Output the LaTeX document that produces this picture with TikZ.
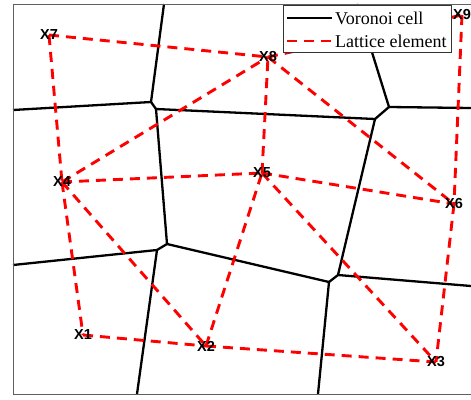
\documentclass[tikz,border=0pt]{standalone}
\usepackage{fontspec}
\setmainfont{Liberation Serif}
\newfontfamily\lblfont{Liberation Sans}
\begin{document}
\begin{tikzpicture}[x=1pt,y=-1pt,
  vor/.style={black,line width=2.3pt},
  lat/.style={red,line width=2.9pt,dash pattern=on 10pt off 7pt},
  ptlabel/.style={inner sep=0pt,font=\lblfont\bfseries\fontsize{14.5}{15}\selectfont},
  legtext/.style={inner sep=0pt,anchor=base west,font=\fontsize{18}{20}\selectfont},
  frame/.style={gray!75!black,line width=1pt}]
\useasboundingbox (0,0) rectangle (471,399);
% lattice points
\coordinate (p1) at (83,335);
\coordinate (p2) at (206,346);
\coordinate (p3) at (436,362);
\coordinate (p4) at (62,182);
\coordinate (p5) at (262,173);
\coordinate (p6) at (454,204);
\coordinate (p7) at (49,35);
\coordinate (p8) at (268,57);
\coordinate (p9) at (462,15);
% voronoi vertices and border ends
\coordinate (t1) at (164,4);
\coordinate (a1) at (151,102);
\coordinate (l1) at (13,110);
\coordinate (a2) at (156,109);
\coordinate (b1) at (375,119);
\coordinate (b2) at (389,107);
\coordinate (t2) at (357,4);
\coordinate (r1) at (471,108);
\coordinate (d2) at (338,275);
\coordinate (d1) at (329,282);
\coordinate (r2) at (471,286);
\coordinate (bt1) at (318,394);
\coordinate (c2) at (167,244);
\coordinate (c1) at (157,250);
\coordinate (l2) at (13,265);
\coordinate (bt2) at (137,394);
% frame corners
\coordinate (f1) at (13,4);
\coordinate (f2) at (13,394);
\coordinate (f3) at (471,394);
\coordinate (f4) at (471,4);
% voronoi cells
\draw[vor] (t1) -- (a1) -- (l1);
\draw[vor] (a1) -- (a2) -- (b1) -- (b2) -- (t2);
\draw[vor] (b2) -- (r1);
\draw[vor] (b1) -- (d2) -- (d1) -- (bt1);
\draw[vor] (d2) -- (r2);
\draw[vor] (a2) -- (c2) -- (c1) -- (l2);
\draw[vor] (c2) -- (d1);
\draw[vor] (c1) -- (bt2);
% lattice elements
\draw[lat] (p7) -- (p8);
\draw[lat] (p8) -- (p9);
\draw[lat] (p7) -- (p4);
\draw[lat] (p4) -- (p8);
\draw[lat] (p4) -- (p5);
\draw[lat] (p4) -- (p1);
\draw[lat] (p4) -- (p2);
\draw[lat] (p1) -- (p2);
\draw[lat] (p2) -- (p3);
\draw[lat] (p2) -- (p5);
\draw[lat] (p5) -- (p8);
\draw[lat] (p5) -- (p6);
\draw[lat] (p5) -- (p3);
\draw[lat] (p8) -- (p6);
\draw[lat] (p6) -- (p3);
\draw[lat] (p9) -- (p6);
% frame
\draw[frame] (f4) -- (f1) -- (f2) -- (f3);
% labels
\node[ptlabel] (x1) at (p1) {X1};
\node[ptlabel] (x2) at (p2) {X2};
\node[ptlabel] (x3) at (p3) {X3};
\node[ptlabel] (x4) at (p4) {X4};
\node[ptlabel] (x5) at (p5) {X5};
\node[ptlabel] (x6) at (p6) {X6};
\node[ptlabel] (x7) at (p7) {X7};
\node[ptlabel] (x8) at (p8) {X8};
\node[ptlabel] (x9) at (p9) {X9};
% legend
\coordinate (lg1) at (283,5);
\coordinate (lg2) at (451,52);
\draw[fill=white,draw=black!80,line width=0.8pt] (lg1) rectangle (lg2);
\coordinate (s1a) at (287,18);
\coordinate (s1b) at (332,18);
\coordinate (s2a) at (287,41);
\coordinate (s2b) at (332,41);
\draw[vor] (s1a) -- (s1b);
\draw[lat] (s2a) -- (s2b);
\node[legtext] (lt1) at (335,24) {Voronoi cell};
\node[legtext] (lt2) at (335,47) {Lattice element};
\end{tikzpicture}
\end{document}
